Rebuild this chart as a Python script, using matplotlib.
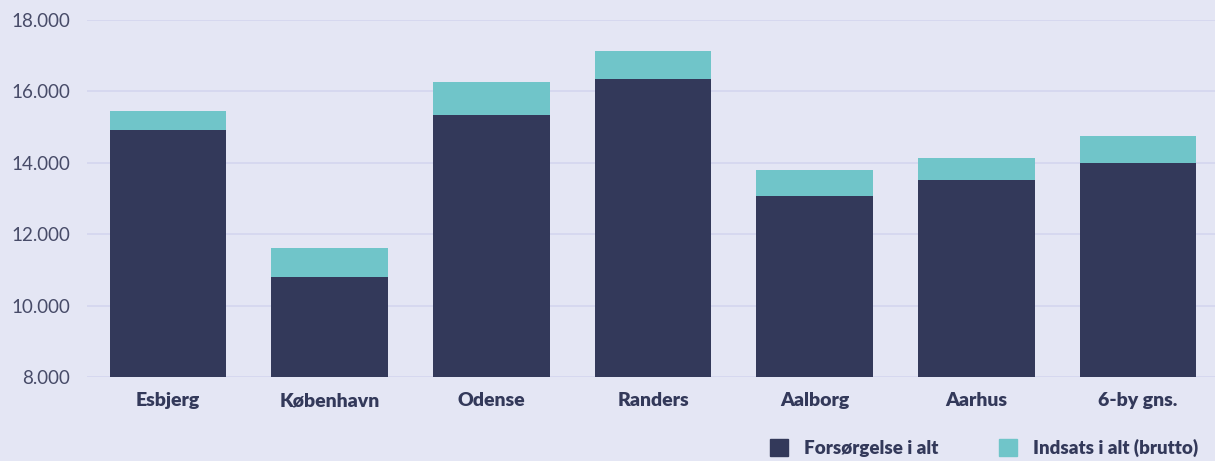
import matplotlib
matplotlib.use('Agg')
import matplotlib.pyplot as plt
from matplotlib.patches import Patch

# data (kr. pr. indbygger)
byer = ['Esbjerg', 'København', 'Odense', 'Randers', 'Aalborg', 'Aarhus', '6-by gns.']
forsorgelse = [14920, 10800, 15340, 16350, 13070, 13520, 13990]
indsats = [530, 810, 920, 780, 730, 610, 760]
yticks = [8000, 10000, 12000, 14000, 16000, 18000]
ytick_labels = ['8.000', '10.000', '12.000', '14.000', '16.000', '18.000']

bg = '#e4e6f4'
dark = '#33395a'
teal = '#70c5c9'
txt = '#474b68'

plt.rcParams['font.family'] = ['Lato', 'DejaVu Sans']

fig = plt.figure(figsize=(12.15, 4.61), dpi=100, facecolor=bg)
ax = fig.add_axes([87 / 1215, 1 - 377 / 461, 1132 / 1215, 357 / 461])
ax.set_facecolor(bg)

x = list(range(len(byer)))
bund = 8000
ax.bar(x, [f - bund for f in forsorgelse], bottom=bund, width=0.72, color=dark, zorder=3)
ax.bar(x, indsats, bottom=forsorgelse, width=0.72, color=teal, zorder=3)

ax.set_xlim(-0.5, len(byer) - 0.5)
ax.set_ylim(8000, 18000)
ax.set_yticks(yticks)
ax.set_yticklabels(ytick_labels, fontsize=13.5, color=txt)
ax.set_xticks(x)
ax.set_xticklabels(byer, fontsize=14, fontweight='heavy', color=dark)
ax.tick_params(axis='y', length=0, pad=12)
ax.tick_params(axis='x', length=0, pad=11)
ax.grid(axis='y', color='#d4d6ee', linewidth=1.2, zorder=0)
for s in ax.spines.values():
    s.set_visible(False)

handles = [Patch(color=dark, label='Forsørgelse i alt'),
           Patch(color=teal, label='Indsats i alt (brutto)')]
leg = fig.legend(handles=handles, loc='upper left', bbox_to_anchor=(762 / 1215, 1 - 431 / 461),
                 ncol=2, frameon=False, handlelength=1.0, handleheight=1.0,
                 handletextpad=0.85, columnspacing=3.2, borderaxespad=0.0,
                 prop={'size': 13.5, 'weight': 'heavy'})
for t in leg.get_texts():
    t.set_color(dark)

fig.savefig('out.png', dpi=100, facecolor=bg)
